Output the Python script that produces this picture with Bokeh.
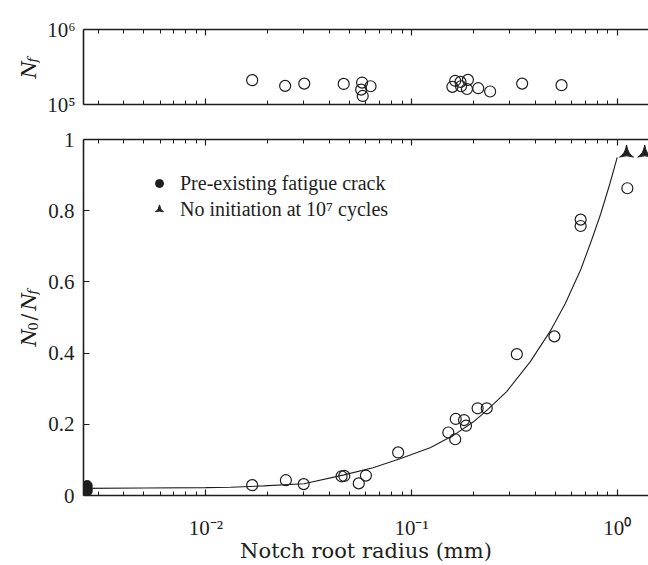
import math
from bokeh.plotting import figure
from bokeh.models import Range1d, FixedTicker, LogAxis, Label, Legend, LegendItem
from bokeh.layouts import column, row
from bokeh.embed import file_html
from bokeh.resources import INLINE

# ---------------- data ----------------
# top panel: cycles to failure vs notch root radius
nf_radius = [0.0168, 0.0243, 0.0301, 0.0468, 0.0575, 0.0569, 0.0579, 0.0632,
             0.158, 0.163, 0.173, 0.174, 0.188, 0.186, 0.211, 0.241, 0.345, 0.536]
nf_cycles = [2.11e5, 1.77e5, 1.90e5, 1.88e5, 1.96e5, 1.58e5, 1.30e5, 1.75e5,
             1.72e5, 2.07e5, 2.00e5, 1.75e5, 2.13e5, 1.61e5, 1.65e5, 1.49e5, 1.90e5, 1.81e5]

# bottom panel: N0/Nf vs notch root radius
open_radius = [0.0168, 0.0245, 0.0299, 0.0457, 0.0471, 0.0554, 0.060, 0.0861,
               0.151, 0.163, 0.164, 0.180, 0.184, 0.2095, 0.232, 0.325, 0.495,
               0.664, 0.664, 1.12]
open_ratio = [0.029, 0.043, 0.032, 0.054, 0.055, 0.034, 0.056, 0.121,
              0.177, 0.158, 0.215, 0.212, 0.196, 0.245, 0.245, 0.397, 0.447,
              0.775, 0.757, 0.863]

precrack_radius = [0.00265, 0.00265, 0.00265]
precrack_ratio = [0.028, 0.019, 0.012]

noinit_radius = [1.11, 1.36]
noinit_ratio = [0.962, 0.962]

curve_radius = [0.00254, 0.005, 0.01, 0.0132, 0.0191, 0.030, 0.047, 0.065, 0.0886,
                0.124, 0.160, 0.200, 0.233, 0.290, 0.378, 0.474, 0.560, 0.664,
                0.750, 0.830, 0.920, 1.0]
curve_ratio = [0.0199, 0.0212, 0.0222, 0.0232, 0.027, 0.033, 0.058, 0.078, 0.104,
               0.135, 0.169, 0.207, 0.240, 0.292, 0.376, 0.463, 0.540, 0.634,
               0.717, 0.790, 0.875, 0.950]

x_major = [0.01, 0.1, 1.0]
x_major_labels = ["10\u207b\u00b2", "10\u207b\u00b9", "10\u2070"]
nf_major = [1e5, 1e6]
nf_major_labels = ["10\u2075", "10\u2076"]
ratio_major = [0, 0.2, 0.4, 0.6, 0.8, 1]
ratio_major_labels = ["0", "0.2", "0.4", "0.6", "0.8", "1"]
x_title = "Notch root radius (mm)"
legend_labels = ["Pre-existing fatigue crack", "No initiation at 10\u2077 cycles"]

# ---------------- styling ----------------
FONT = "Liberation Serif"
TFONT = "DejaVu Serif"
INK = "#1e1e1e"
XMIN, XMAX = 0.002543, 1.419
LABW = 40            # width of the strip holding the rotated y-axis titles
LEFT = 83 - LABW     # left border of the plot figures
H1, H2 = 120, 445

x_minor = [m * 10.0 ** d for d in (-3, -2, -1, 0) for m in range(2, 10)
           if XMIN <= m * 10.0 ** d <= XMAX]


def style_axis(ax, show_labels=True, size="21px"):
    ax.axis_line_color = INK
    ax.axis_line_width = 1.6
    ax.major_tick_in = 6
    ax.major_tick_out = 0
    ax.minor_tick_in = 4
    ax.minor_tick_out = 0
    ax.major_tick_line_color = INK
    ax.minor_tick_line_color = INK
    ax.major_tick_line_width = 1.2
    ax.minor_tick_line_width = 1.0
    ax.major_label_text_font = FONT
    if show_labels:
        ax.major_label_text_color = INK
        ax.major_label_text_font_size = size
    else:
        ax.major_label_text_color = None
        ax.major_label_text_font_size = "2px"
        ax.major_label_standoff = 0


def xticker():
    return FixedTicker(ticks=x_major, minor_ticks=x_minor)


def label_strip(h):
    f = figure(width=LABW, height=h, x_range=Range1d(0, LABW), y_range=Range1d(0, h),
               output_backend="svg", toolbar_location=None,
               x_axis_location=None, y_axis_location=None,
               min_border_left=0, min_border_right=0, min_border_top=0,
               min_border_bottom=0)
    f.outline_line_color = None
    f.xgrid.visible = False
    f.ygrid.visible = False
    return f


def add_piece(f, text, x, y, size, style):
    f.add_layout(Label(x=x, y=y, text=text,
                       angle=math.pi / 2, text_align="left", text_baseline="alphabetic",
                       text_font=TFONT, text_font_size=size, text_font_style=style,
                       text_color=INK))


# ---------------- top panel ----------------
p1 = figure(width=648 - LABW, height=H1, x_axis_type="log", y_axis_type="log",
            x_range=Range1d(XMIN, XMAX), y_range=Range1d(1e5, 1e6),
            output_backend="svg", toolbar_location=None,
            min_border_left=LEFT, min_border_right=0, min_border_top=29,
            min_border_bottom=16)
p1.outline_line_color = None
p1.xgrid.visible = False
p1.ygrid.visible = False
p1.xaxis.ticker = xticker()
style_axis(p1.xaxis[0], show_labels=False)
p1.yaxis.ticker = FixedTicker(ticks=nf_major, minor_ticks=[])
p1.yaxis.major_label_overrides = {t: l for t, l in zip(nf_major, nf_major_labels)}
style_axis(p1.yaxis[0])
p1.yaxis.major_label_standoff = 8
top1 = LogAxis(ticker=xticker())
style_axis(top1, show_labels=False)
p1.add_layout(top1, "above")

p1.scatter(nf_radius, nf_cycles, marker="circle", size=11, fill_color=None,
           line_color=INK, line_width=1.2)

# ---------------- bottom panel ----------------
p2 = figure(width=648 - LABW, height=H2, x_axis_type="log",
            x_range=Range1d(XMIN, XMAX), y_range=Range1d(0, 1),
            output_backend="svg", toolbar_location=None,
            min_border_left=LEFT, min_border_right=0, min_border_top=19,
            min_border_bottom=70)
p2.outline_line_color = None
p2.xgrid.visible = False
p2.ygrid.visible = False
p2.xaxis.ticker = xticker()
p2.xaxis.major_label_overrides = {t: l for t, l in zip(x_major, x_major_labels)}
style_axis(p2.xaxis[0])
p2.xaxis.major_label_standoff = 20
p2.xaxis.axis_label = x_title
p2.xaxis.axis_label_text_font = TFONT
p2.xaxis.axis_label_text_font_size = "21px"
p2.xaxis.axis_label_text_font_style = "normal"
p2.xaxis.axis_label_text_color = INK
p2.xaxis.axis_label_standoff = -4
p2.yaxis.ticker = FixedTicker(ticks=ratio_major, minor_ticks=[])
p2.yaxis.major_label_overrides = {t: l for t, l in zip(ratio_major, ratio_major_labels)}
style_axis(p2.yaxis[0])
p2.yaxis.major_label_standoff = 9
top2 = LogAxis(ticker=xticker())
style_axis(top2, show_labels=False)
p2.add_layout(top2, "above")

p2.line(curve_radius, curve_ratio, line_color=INK, line_width=1.1)
p2.scatter(open_radius, open_ratio, marker="circle", size=11, fill_color=None,
           line_color=INK, line_width=1.2)
r_dot = p2.scatter(precrack_radius, precrack_ratio, marker="circle", size=10,
                   fill_color=INK, line_color=INK)
r_tri = p2.scatter(noinit_radius, noinit_ratio, marker="triangle_pin", size=14,
                   fill_color=INK, line_color=INK)

legend = Legend(items=[LegendItem(label=legend_labels[0], renderers=[r_dot]),
                       LegendItem(label=legend_labels[1], renderers=[r_tri])],
                location=(66, 274), border_line_color=None, background_fill_alpha=0,
                padding=0, margin=0, spacing=2, glyph_width=20, glyph_height=24,
                label_height=24, label_standoff=11, label_text_font=FONT,
                label_text_font_size="20px", label_text_color=INK)
p2.add_layout(legend)

# ---------------- rotated y-axis titles (N_f and N_0 / N_f) ----------------
s1 = label_strip(H1)
add_piece(s1, "N", 28, H1 - 78, "20px", "italic")
add_piece(s1, "f", 32, H1 - 62, "13px", "italic")

s2 = label_strip(H2)
add_piece(s2, "N", 28, H1 + H2 - 346, "20px", "italic")
add_piece(s2, "0", 32, H1 + H2 - 330, "13px", "normal")
add_piece(s2, "/", 28, H1 + H2 - 320, "20px", "normal")
add_piece(s2, "N", 28, H1 + H2 - 310, "20px", "italic")
add_piece(s2, "f", 32, H1 + H2 - 294, "13px", "italic")

layout = row(column(s1, s2, spacing=0), column(p1, p2, spacing=0), spacing=0)
open("out.html", "w").write(file_html(layout, INLINE))
